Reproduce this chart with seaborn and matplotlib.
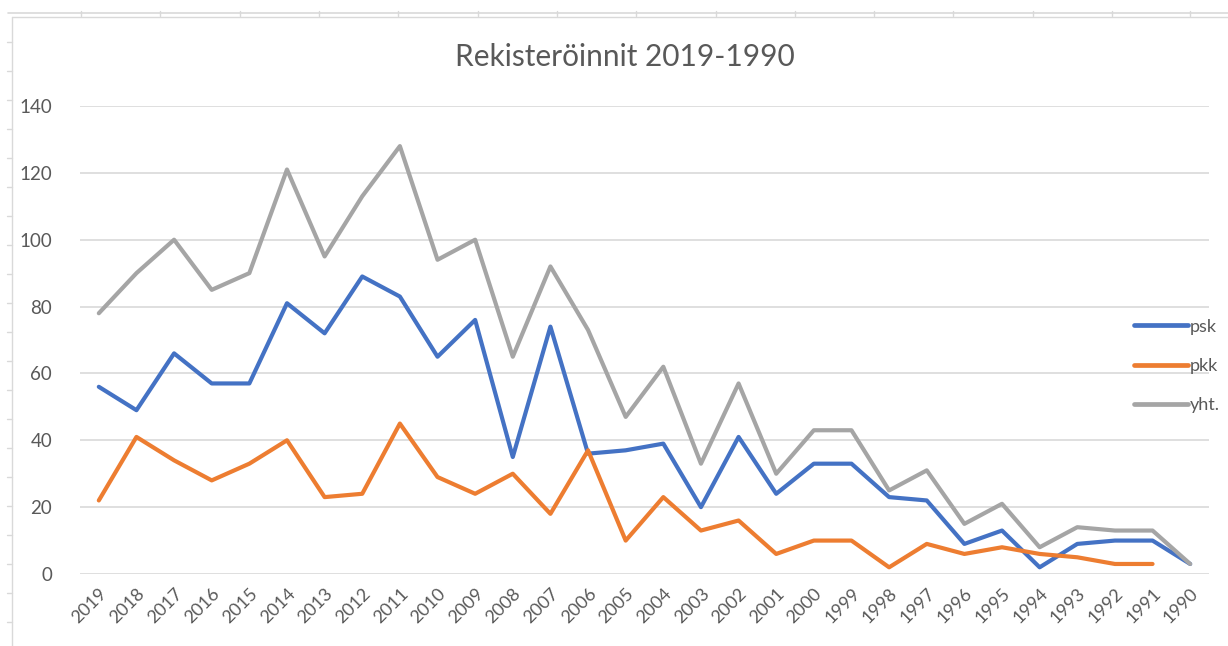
import numpy as np
import pandas as pd
import matplotlib
matplotlib.use("Agg")
import matplotlib.pyplot as plt
from matplotlib.lines import Line2D
import seaborn as sns

years = ["2019", "2018", "2017", "2016", "2015", "2014", "2013", "2012", "2011", "2010",
         "2009", "2008", "2007", "2006", "2005", "2004", "2003", "2002", "2001", "2000",
         "1999", "1998", "1997", "1996", "1995", "1994", "1993", "1992", "1991", "1990"]
psk = [56, 49, 66, 57, 57, 81, 72, 89, 83, 65,
       76, 35, 74, 36, 37, 39, 20, 41, 24, 33,
       33, 23, 22, 9, 13, 2, 9, 10, 10, 3]
pkk = [22, 41, 34, 28, 33, 40, 23, 24, 45, 29,
       24, 30, 18, 37, 10, 23, 13, 16, 6, 10,
       10, 2, 9, 6, 8, 6, 5, 3, 3, np.nan]
yht = [78, 90, 100, 85, 90, 121, 95, 113, 128, 94,
       100, 65, 92, 73, 47, 62, 33, 57, 30, 43,
       43, 25, 31, 15, 21, 8, 14, 13, 13, 3]
series_names = ["psk", "pkk", "yht."]
colors = ["#4472C4", "#ED7D31", "#A5A5A5"]
title = "Rekisteröinnit 2019-1990"
yticks = [0, 20, 40, 60, 80, 100, 120, 140]

sns.set_theme(style="white")
plt.rcParams["font.family"] = ["Lato", "DejaVu Sans"]

frames = []
for name, vals in zip(series_names, [psk, pkk, yht]):
    frames.append(pd.DataFrame({"pos": np.arange(len(years)), "year": years,
                                "value": vals, "series": name}))
df = pd.concat(frames, ignore_index=True)

fig = plt.figure(figsize=(12.28, 6.46), dpi=100)
ax = fig.add_axes([80 / 1228, 1 - 574 / 646, (1209 - 80) / 1228, (574 - 106) / 646])

sns.lineplot(data=df, x="pos", y="value", hue="series", hue_order=series_names,
             palette=colors, linewidth=3.0, sort=False, ax=ax, legend=False)

ax.set_xlim(-0.5, len(years) - 0.5)
ax.set_ylim(0, 140)
ax.set_yticks(yticks)
ax.set_xticks(np.arange(len(years)))
ax.set_xticklabels(years, rotation=45, ha="right", va="top", rotation_mode="anchor")
ax.tick_params(axis="x", colors="#595959", labelsize=13, length=0, pad=8)
ax.tick_params(axis="y", colors="#595959", labelsize=13.5, length=0, pad=20)
for lbl in ax.get_xticklabels():
    lbl.set_color("#595959")
ax.set_xlabel("")
ax.set_ylabel("")
ax.yaxis.grid(True, color="#D9D9D9", linewidth=1.2)
ax.xaxis.grid(False)
for s in ax.spines.values():
    s.set_visible(False)
ax.set_axisbelow(True)

handles = [Line2D([0], [0], color=c, linewidth=3.4) for c in colors]
leg = fig.legend(handles, series_names, loc="center left",
                 bbox_to_anchor=(1118 / 1228, 1 - 366 / 646), frameon=False,
                 fontsize=13, handlelength=3.0, handletextpad=0.1,
                 labelspacing=1.3, labelcolor="#595959")

fig.text(625 / 1228, 1 - 57 / 646, title, ha="center", va="center",
         fontsize=21.5, color="#595959")

# Excel sheet / chart frame decorations
line_col = "#D9D9D9"
fig.add_artist(Line2D([8 / 1228, 1], [1 - 13 / 646, 1 - 13 / 646], color=line_col, linewidth=1.2))
fig.add_artist(Line2D([12 / 1228, 1], [1 - 17 / 646, 1 - 17 / 646], color=line_col, linewidth=1.0))
fig.add_artist(Line2D([12 / 1228, 12 / 1228], [0, 1 - 17 / 646], color=line_col, linewidth=1.0))
for xp in [81, 160, 240, 319, 398, 478, 557, 636, 716, 795, 874, 953, 1033, 1112, 1190]:
    fig.add_artist(Line2D([xp / 1228, xp / 1228], [1 - 11 / 646, 1 - 16 / 646], color=line_col, linewidth=1.0))
for yp in range(42, 646, 29):
    fig.add_artist(Line2D([7 / 1228, 12 / 1228], [1 - yp / 646, 1 - yp / 646], color=line_col, linewidth=1.0))

fig.savefig("out.png", dpi=100, facecolor="white")
